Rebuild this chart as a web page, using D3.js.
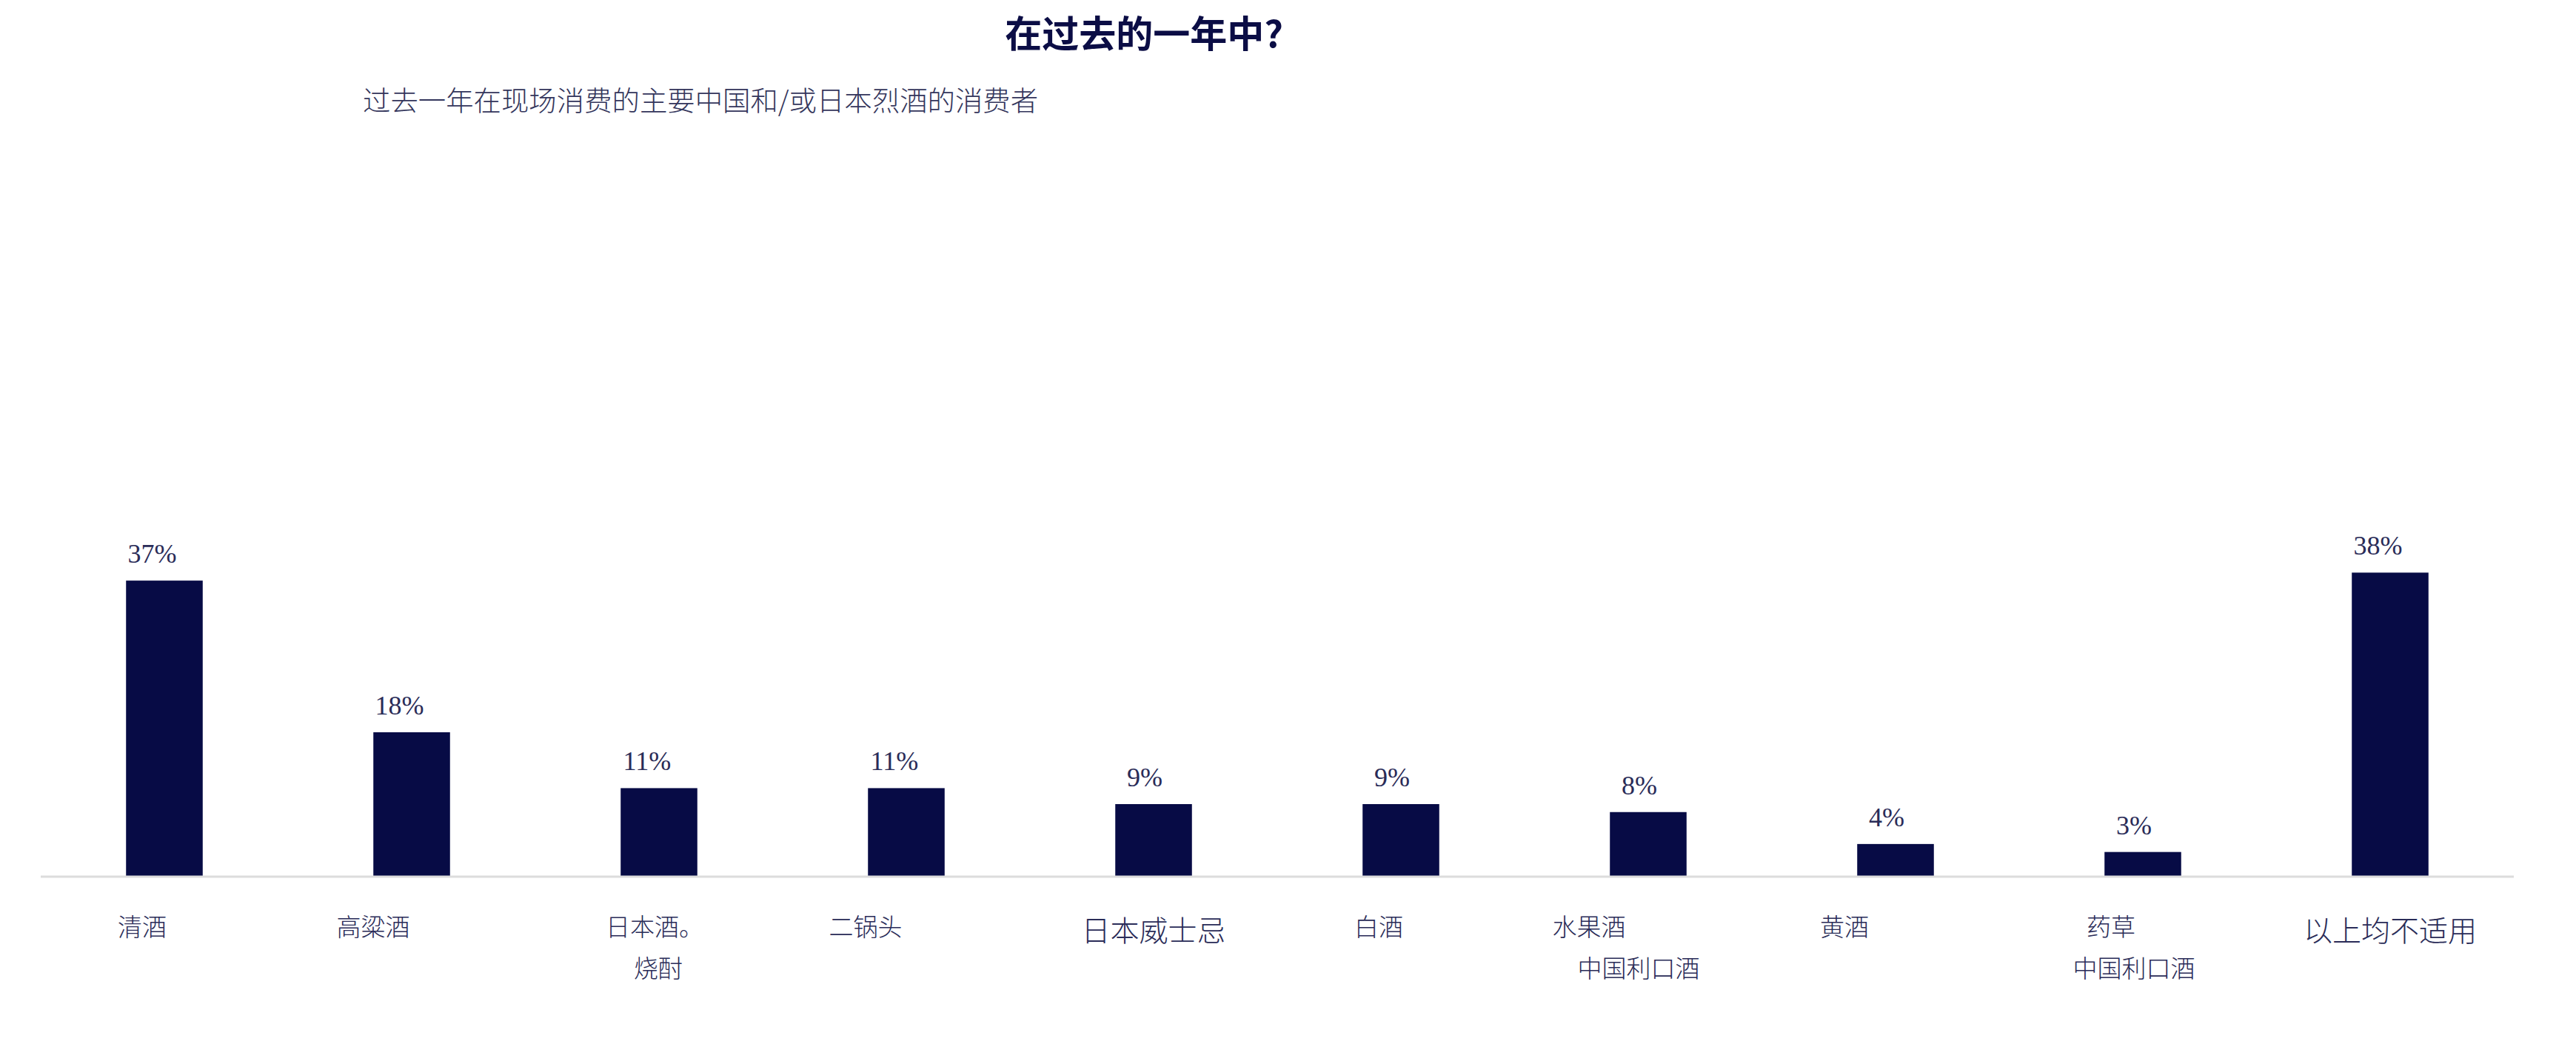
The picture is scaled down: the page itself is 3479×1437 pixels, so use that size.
<!DOCTYPE html>
<html>
<head>
<meta charset="utf-8">
<script src="https://cdn.jsdelivr.net/npm/d3@7"></script>
<style>
  body { margin: 0; background: #fff; }
  text { font-family: "Noto Sans CJK SC", "Noto Sans", sans-serif; }
</style>
</head>
<body>
<div id="content"></div>
<script>
const w = 3479
const h = 1437

// data
const title = "在过去的一年中?"
const subtitle = "过去一年在现场消费的主要中国和/或日本烈酒的消费者"
const categories = [
  ["清酒"], ["高粱酒"], ["日本酒。", "烧酎"], ["二锅头"], ["日本威士忌"],
  ["白酒"], ["水果酒", "中国利口酒"], ["黄酒"], ["药草", "中国利口酒"], ["以上均不适用"]
]
const values = [37, 18, 11, 11, 9, 9, 8, 4, 3, 38]

// label layout tweaks (text boxes in the original are not centred)
const labelShift = [[-30], [-52], [-6, -1], [-55], [0], [-30], [-80, -13], [-69], [-43, -12], [0]]
const bigLabel = [false, false, false, false, true, false, false, false, false, true]

const navy = "#070b45"
const keys = categories.map(c => c.join(""))

let svg = d3.select("#content")
  .append("svg")
  .attr("width", w)
  .attr("height", h)

svg.append("rect").attr("width", w).attr("height", h).attr("fill", "#fff")

let x = d3.scaleBand()
  .domain(keys)
  .range([55, 3395])
  .paddingInner(0.69)
  .paddingOuter(0.345)

let y = d3.scaleLinear()
  .domain([0, 100])
  .range([1183, 105])

// title + subtitle
svg.append("text")
  .attr("x", 1545).attr("y", 64)
  .attr("text-anchor", "middle")
  .attr("font-size", 50).attr("font-weight", 700)
  .attr("fill", "#0b0d45")
  .text(title)

svg.append("text")
  .attr("x", 490).attr("y", 150)
  .attr("font-size", 37.4)
  .attr("font-weight", 300)
  .attr("fill", "#34365c")
  .text(subtitle)

// bars
svg.selectAll("rect.bar")
  .data(values)
  .enter()
  .append("rect")
    .attr("class", "bar")
    .attr("x", (d, i) => x(keys[i]))
    .attr("y", d => y(d))
    .attr("width", x.bandwidth())
    .attr("height", d => y(0) - y(d))
    .attr("fill", navy)

// baseline
svg.append("line")
  .attr("x1", 55).attr("x2", 3395)
  .attr("y1", y(0) + 1).attr("y2", y(0) + 1)
  .attr("stroke", "#dcdcdc")
  .attr("stroke-width", 3)

// value labels
svg.selectAll("text.val")
  .data(values)
  .enter()
  .append("text")
    .attr("class", "val")
    .attr("y", d => y(d) - 24)
    .attr("font-size", 36)
    .style("font-family", "'Liberation Serif', serif")
    .attr("fill", "#2a2c58")
    .text(d => d + "%")
    .each(function(d, i) {
      const tw = this.getComputedTextLength()
      const cx = x(keys[i]) + x.bandwidth() / 2
      d3.select(this).attr("x", cx - tw * 0.75)
    })

// category labels
categories.forEach((lines, i) => {
  const cx = x(keys[i]) + x.bandwidth() / 2
  lines.forEach((line, j) => {
    svg.append("text")
      .attr("x", cx + labelShift[i][j])
      .attr("y", (bigLabel[i] ? 1271 : 1264) + j * 56)
      .attr("text-anchor", "middle")
      .attr("font-size", bigLabel[i] ? 39 : 33)
      .attr("font-weight", 300)
      .attr("fill", "#2a2c58")
      .text(line)
  })
})
</script>
</body>
</html>
